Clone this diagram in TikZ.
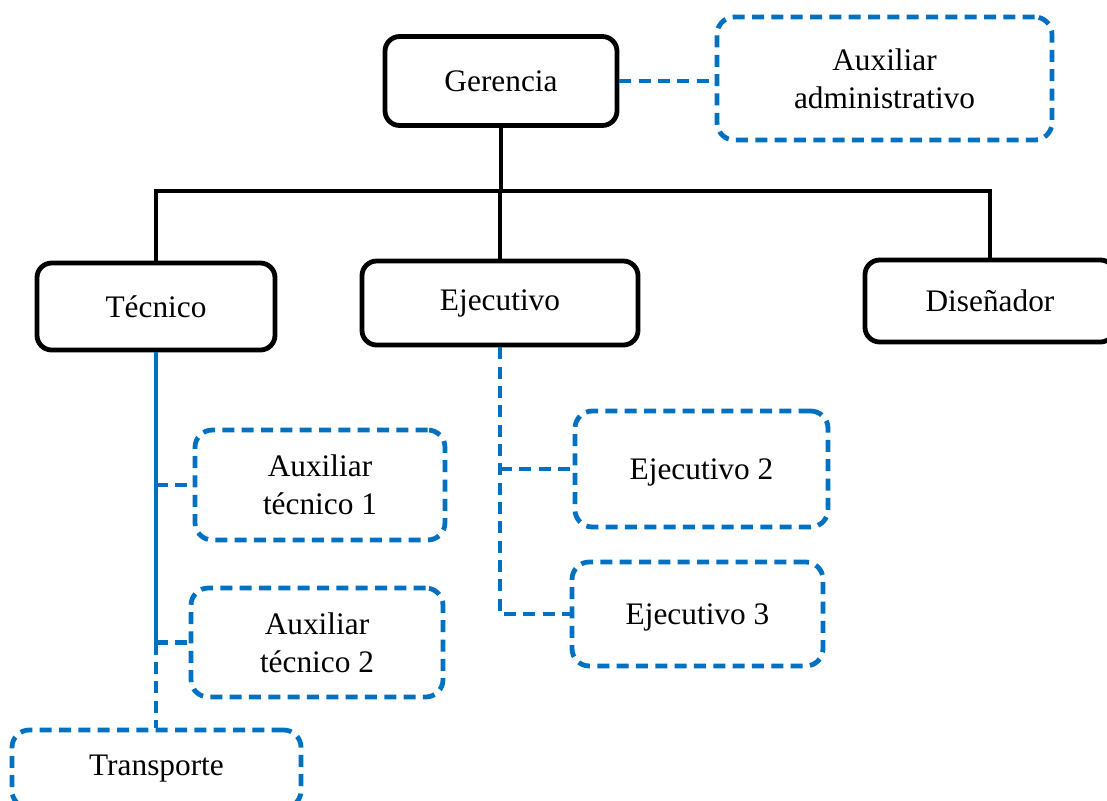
\documentclass[tikz,border=0pt]{standalone}
\usepackage{fontspec}
\setmainfont{Liberation Serif}
\definecolor{orgblue}{HTML}{0070C0}
\begin{document}
\begin{tikzpicture}[x=0.75pt,y=-0.75pt,
  font=\fontsize{23.5pt}{28.5pt}\selectfont,
  solidbox/.style={draw=black,line width=3.6pt,rounded corners=11pt,fill=white,inner sep=0pt,align=center},
  dashbox/.style={draw=orgblue,line width=3.6pt,rounded corners=13pt,fill=white,inner sep=0pt,align=center,dash pattern=on 9pt off 5.5pt},
  solidline/.style={draw=black,line width=3.6pt},
  blueline/.style={draw=orgblue,line width=3.6pt},
  bluedash/.style={draw=orgblue,line width=3.6pt,dash pattern=on 9pt off 5.5pt}]
\useasboundingbox (0,0) rectangle (1107,800);
\clip (0,0) rectangle (1107,800);
\coordinate (bj) at (501,191);
\node[solidbox,minimum width=174pt,minimum height=66.75pt] (ger) at (501,81) {Gerencia};
\node[dashbox,minimum width=251.25pt,minimum height=92.25pt] (aux) at (884.5,78.5) {Auxiliar\\administrativo};
\node[solidbox,minimum width=178.5pt,minimum height=65.25pt] (tec) at (156,306.5) {Técnico};
\node[solidbox,minimum width=207pt,minimum height=63pt] (eje) at (500,303) {Ejecutivo};
\node[solidbox,minimum width=187.5pt,minimum height=61.5pt] (dis) at (990,301) {Diseñador};
\node[dashbox,minimum width=187.5pt,minimum height=82.5pt] (at1) at (320,485) {Auxiliar\\técnico 1};
\node[dashbox,minimum width=189pt,minimum height=81.75pt] (at2) at (317,642.5) {Auxiliar\\técnico 2};
\node[dashbox,minimum width=216.75pt,minimum height=58.5pt] (tra) at (156.5,769) {Transporte};
\node[dashbox,minimum width=189.75pt,minimum height=87pt,text depth=0pt] (ej2) at (701.5,469) {Ejecutivo 2};
\node[dashbox,minimum width=188.25pt,minimum height=78pt,text depth=0pt] (ej3) at (697.5,614) {Ejecutivo 3};
\draw[bluedash] (ger.east) -- (ger.east -| aux.west);
\draw[solidline] (ger.south) -- (bj);
\draw[solidline] (tec.north) |- (bj -| dis.north) -- (dis.north);
\draw[solidline] (eje.north) -- (eje.north |- bj);
\coordinate (t1) at (tec.south |- at1.west);
\coordinate (t2) at (tec.south |- at2.west);
\draw[blueline] (tec.south) -- (t2);
\draw[bluedash] (t2) -- (tec.south |- tra.north);
\draw[bluedash] (t1) -- (at1.west);
\draw[bluedash] (t2) -- (at2.west);
\coordinate (e2) at (eje.south |- ej2.west);
\coordinate (e3) at (eje.south |- ej3.west);
\draw[bluedash] (eje.south) -- (e3) -- (ej3.west);
\draw[bluedash] (e2) -- (ej2.west);
\end{tikzpicture}
\end{document}
